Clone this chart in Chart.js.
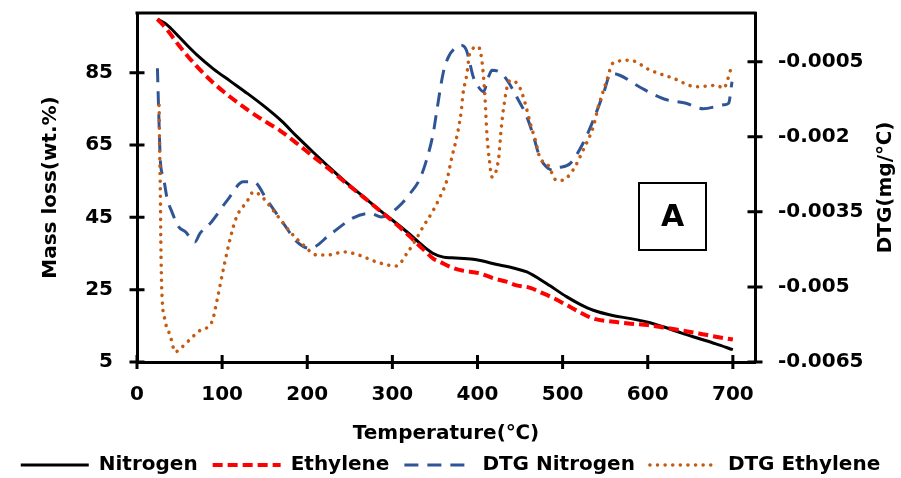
<!DOCTYPE html>
<html><head><meta charset="utf-8">
<script src="https://cdn.jsdelivr.net/npm/chart.js@4.4.1/dist/chart.umd.min.js"></script>
<style>html,body{margin:0;padding:0;background:#fff}#wrap{width:901px;height:478px;position:relative}</style>
</head><body><div id="wrap"><canvas id="c" width="901" height="478"></canvas></div>
<script>
// ---- data ----
const xTicks = [0, 100, 200, 300, 400, 500, 600, 700];
const leftTicks = [5, 25, 45, 65, 85];
const rightTicks = [-0.0065, -0.005, -0.0035, -0.002, -0.0005];
const rightTickLabels = ['-0.0065', '-0.005', '-0.0035', '-0.002', '-0.0005'];
const seriesNames = ['Nitrogen', 'Ethylene', 'DTG Nitrogen', 'DTG Ethylene'];

const nitrogenT = [24, 35, 47, 60, 70, 90, 110, 130, 150, 170, 188, 207, 227, 246, 266, 285, 305, 320, 335, 348, 360, 370, 395, 426, 442, 458, 481, 505, 520, 536, 560, 580, 600, 620, 640, 660, 680, 700];
const nitrogenMass = [99.8, 98.3, 95.5, 92.3, 90.0, 86.0, 82.6, 79.2, 75.6, 71.6, 67.3, 63.0, 58.6, 54.6, 50.7, 47.0, 43.3, 40.4, 37.3, 35.0, 34.0, 33.8, 33.4, 31.8, 31.0, 29.9, 26.7, 23.0, 21.0, 19.3, 17.8, 17.0, 16.0, 14.6, 13.0, 11.5, 10.0, 8.4];

const ethyleneT = [24, 35, 50, 70, 90, 110, 130, 150, 168, 187, 207, 227, 246, 266, 285, 305, 320, 336, 348, 356, 368, 380, 403, 418, 434, 446, 462, 473, 490, 505, 520, 536, 560, 580, 600, 620, 640, 660, 680, 700];
const ethyleneMass = [99.8, 97.0, 92.3, 86.8, 82.1, 78.2, 74.7, 71.6, 69.0, 65.6, 61.8, 58.1, 54.4, 50.6, 46.9, 43.0, 39.8, 36.2, 33.6, 32.7, 31.3, 30.4, 29.5, 28.2, 27.2, 26.2, 25.5, 24.4, 22.6, 20.7, 18.8, 17.0, 16.1, 15.6, 15.2, 14.5, 13.7, 12.9, 12.0, 11.2];

const dtgNitrogenT = [24, 25.5, 27.5, 31, 35, 41, 49, 57, 68, 74, 86, 106, 125, 137, 153, 172, 188, 203, 227, 254, 274, 287, 307, 321, 332, 340, 348, 352, 360, 366, 376, 381, 387, 391, 395, 401, 407, 413, 417, 428, 436, 446, 458, 466, 473, 481, 489, 493, 509, 524, 536, 548, 557, 567, 592, 620, 645, 665, 690, 695, 699];
const dtgNitrogen = [-0.00063, -0.0015, -0.0025, -0.0028, -0.0032, -0.0035, -0.0038, -0.0039, -0.0041, -0.00393, -0.00373, -0.00327, -0.0029, -0.0029, -0.00327, -0.00373, -0.0041, -0.00423, -0.00395, -0.00362, -0.00353, -0.0036, -0.0034, -0.00313, -0.00285, -0.00247, -0.00193, -0.0015, -0.0007, -0.0004, -0.0002, -0.00017, -0.00027, -0.00053, -0.0008, -0.001, -0.0011, -0.0008, -0.00067, -0.00073, -0.0009, -0.0012, -0.0016, -0.002, -0.0024, -0.0026, -0.00267, -0.00263, -0.00253, -0.00213, -0.00167, -0.00113, -0.00073, -0.00077, -0.00102, -0.00125, -0.00133, -0.00144, -0.00136, -0.00133, -0.0009];

const dtgEthyleneT = [26, 26.5, 27.4, 28, 29, 33, 39, 45, 51, 61, 74, 88, 94, 102, 110, 117, 129, 137, 145, 160, 180, 196, 211, 225, 243, 262, 278, 297, 305, 317, 327, 336, 348, 356, 364, 370, 374, 378, 381, 383, 387, 391, 401, 406, 409, 411, 414, 417, 421, 425, 428, 432, 436, 440, 450, 456, 462, 468, 473, 483, 493, 499, 512, 524, 536, 542, 552, 559, 579, 603, 630, 657, 681, 689, 698];
const dtgEthylene = [-0.00137, -0.0021, -0.0031, -0.0041, -0.005, -0.00567, -0.00597, -0.0063, -0.00623, -0.00607, -0.00587, -0.0057, -0.00527, -0.0046, -0.004, -0.0036, -0.0033, -0.0031, -0.00317, -0.00347, -0.0039, -0.00417, -0.00436, -0.00436, -0.0043, -0.00437, -0.00448, -0.00457, -0.00458, -0.00433, -0.00407, -0.0038, -0.00347, -0.0032, -0.00287, -0.0024, -0.00213, -0.0018, -0.00147, -0.00113, -0.0008, -0.00033, -0.0002, -0.0006, -0.00127, -0.00193, -0.00247, -0.0028, -0.00273, -0.0024, -0.0018, -0.00127, -0.00093, -0.00087, -0.00103, -0.00133, -0.00173, -0.00207, -0.0024, -0.00257, -0.00287, -0.00287, -0.00267, -0.00227, -0.0018, -0.0014, -0.00087, -0.00053, -0.00047, -0.00067, -0.00083, -0.001, -0.00097, -0.00103, -0.00063];

// ---- chart ----
const FONT = "'DejaVu Sans', 'Noto Sans CJK SC', sans-serif";
const F20 = { family: FONT, size: 20, weight: 'bold' };
const zip = (xs, ys) => xs.map((x, i) => ({ x: x, y: ys[i] }));
const noPad = s => { s.paddingTop = 0; s.paddingBottom = 0; s.paddingLeft = 0; s.paddingRight = 0; };

const decor = {
  id: 'decor',
  afterDraw(chart) {
    const ctx = chart.ctx, ca = chart.chartArea;
    const sx = chart.scales.x, sy = chart.scales.y, sr = chart.scales.y1;
    ctx.save();
    ctx.strokeStyle = '#000';
    ctx.lineWidth = 3;
    ctx.beginPath();
    ctx.moveTo(ca.left - 1.5, ca.top);
    ctx.lineTo(ca.right + 1.5, ca.top);
    sx.ticks.forEach(t => { const p = sx.getPixelForValue(t.value); ctx.moveTo(p, ca.bottom - 7); ctx.lineTo(p, ca.bottom + 7); });
    sy.ticks.forEach(t => { const p = sy.getPixelForValue(t.value); ctx.moveTo(ca.left - 7.5, p); ctx.lineTo(ca.left + 7.5, p); });
    sr.ticks.forEach(t => { const p = sr.getPixelForValue(t.value); ctx.moveTo(ca.right - 7.5, p); ctx.lineTo(ca.right + 7.5, p); });
    ctx.stroke();
    // right axis title (reads bottom-to-top)
    ctx.save();
    ctx.translate(886, (ca.top + ca.bottom) / 2);
    ctx.rotate(-Math.PI / 2);
    ctx.fillStyle = '#000';
    ctx.font = 'bold 20px ' + FONT;
    ctx.textAlign = 'center';
    ctx.textBaseline = 'middle';
    ctx.fillText('DTG(mg/℃)', 0, 0);
    ctx.restore();
    // panel label box
    ctx.fillStyle = '#fff';
    ctx.fillRect(639, 183, 67, 67);
    ctx.lineWidth = 2;
    ctx.strokeRect(639, 183, 67, 67);
    ctx.fillStyle = '#000';
    ctx.font = 'bold 30px ' + FONT;
    ctx.textAlign = 'center';
    ctx.textBaseline = 'middle';
    ctx.fillText('A', 672.5, 218);
    ctx.restore();
  }
};

new Chart(document.getElementById('c'), {
  type: 'line',
  data: {
    datasets: [
      { label: seriesNames[0], data: zip(nitrogenT, nitrogenMass), yAxisID: 'y', borderColor: '#000000', backgroundColor: '#000000', borderWidth: 3, pointRadius: 0, cubicInterpolationMode: 'monotone', fill: false, order: 2 },
      { label: seriesNames[1], data: zip(ethyleneT, ethyleneMass), yAxisID: 'y', borderColor: '#FF0000', backgroundColor: '#FF0000', borderWidth: 4, borderDash: [10, 5], pointRadius: 0, cubicInterpolationMode: 'monotone', fill: false, order: 1 },
      { label: seriesNames[2], data: zip(dtgNitrogenT, dtgNitrogen), yAxisID: 'y1', borderColor: '#2F5597', backgroundColor: '#2F5597', borderWidth: 3, borderDash: [14, 9], pointRadius: 0, cubicInterpolationMode: 'monotone', fill: false, order: 4 },
      { label: seriesNames[3], data: zip(dtgEthyleneT, dtgEthylene), yAxisID: 'y1', borderColor: '#C55A11', backgroundColor: '#C55A11', borderWidth: 3.5, borderDash: [0.1, 7.5], borderCapStyle: 'round', pointRadius: 0, cubicInterpolationMode: 'monotone', fill: false, order: 3 }
    ]
  },
  options: {
    responsive: false,
    animation: false,
    devicePixelRatio: 1,
    layout: { padding: { top: 13, left: 0, right: 0, bottom: 0 } },
    plugins: {
      legend: {
        position: 'bottom',
        maxHeight: 38,
        labels: {
          usePointStyle: true,
          pointStyle: 'line',
          pointStyleWidth: 68,
          padding: 15,
          color: '#000',
          font: F20,
          sort: (a, b) => a.datasetIndex - b.datasetIndex,
          generateLabels: chart => {
            const items = Chart.defaults.plugins.legend.labels.generateLabels(chart);
            items.forEach(it => {
              const ds = chart.data.datasets[it.datasetIndex];
              it.lineDash = ds.borderDash || [];
              it.lineWidth = ds.borderWidth;
              it.lineCap = ds.borderCapStyle || 'butt';
              it.strokeStyle = ds.borderColor;
              it.fillStyle = ds.borderColor;
              it.pointStyle = 'line';
            });
            return items;
          }
        }
      },
      tooltip: { enabled: false }
    },
    scales: {
      x: {
        type: 'linear', min: 0, max: 726,
        afterBuildTicks: s => { s.ticks = xTicks.map(v => ({ value: v })); },
        afterFit: s => { s.height = 78; noPad(s); },
        ticks: { color: '#000', font: F20, padding: 21, maxRotation: 0, autoSkip: false, callback: v => String(v) },
        grid: { display: false, drawTicks: false },
        border: { display: true, color: '#000', width: 3 },
        title: { display: true, text: 'Temperature(℃)', color: '#000', font: F20, padding: { top: 0, bottom: -6 } }
      },
      y: {
        type: 'linear', position: 'left', min: 5, max: 101.5,
        afterBuildTicks: s => { s.ticks = leftTicks.map(v => ({ value: v })); },
        afterFit: s => { s.width = 137; noPad(s); },
        ticks: { color: '#000', font: F20, padding: 24, callback: v => String(v) },
        grid: { display: false, drawTicks: false },
        border: { display: true, color: '#000', width: 3 },
        title: { display: true, text: 'Mass loss(wt.%)', color: '#000', font: F20, padding: { top: 39, bottom: 0 } }
      },
      y1: {
        type: 'linear', position: 'right', min: -0.0065, max: 0.000474,
        afterBuildTicks: s => { s.ticks = rightTicks.map(v => ({ value: v })); },
        afterFit: s => { s.width = 146; noPad(s); },
        ticks: { color: '#000', font: F20, padding: 23, callback: (v, i) => rightTickLabels[i] },
        grid: { display: false, drawTicks: false },
        border: { display: true, color: '#000', width: 3 },
        title: { display: false }
      }
    }
  },
  plugins: [decor]
});
</script>
</body></html>
